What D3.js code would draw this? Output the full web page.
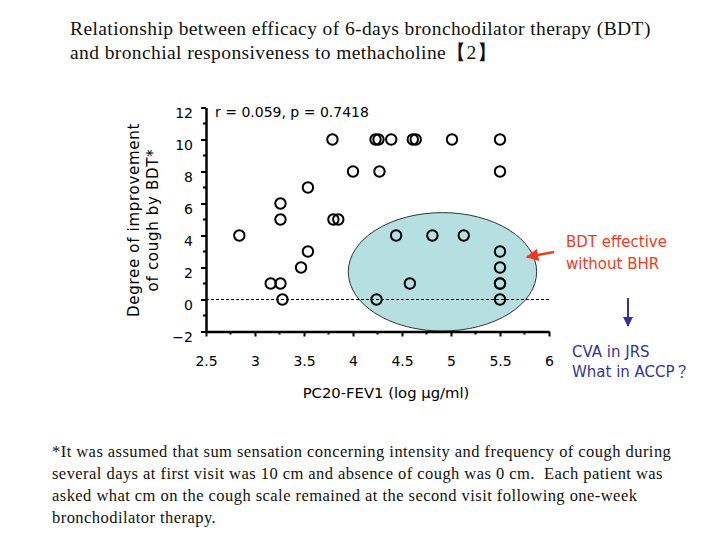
<!DOCTYPE html>
<html><head><meta charset="utf-8">
<script src="https://cdn.jsdelivr.net/npm/d3@7"></script>
<style>body{margin:0;background:#fff}svg text{white-space:pre}</style>
</head><body>
<script>
const titleLines = ["Relationship between efficacy of 6-days bronchodilator therapy (BDT)",
                    "and bronchial responsiveness to methacholine【2】"];
const xValues = [2.84,3.26,3.26,3.80,3.85,3.54,3.47,3.16,3.26,3.28,3.54,3.79,4.00,4.23,4.26,4.39,4.61,4.64,5.01,5.50,4.27,5.50,4.44,4.81,5.13,5.50,5.50,5.50,5.50,5.50,4.58,4.24];
const yValues = [4,6,5,5,5,3,2,1,1,0,7,10,8,10,10,10,10,10,10,10,8,8,4,4,4,3,2,1,1,0,1,0];
const xTicks = [2.5,3,3.5,4,4.5,5,5.5,6];
const yTicks = [-2,0,2,4,6,8,10,12];
const ellipse = {cx:4.913, cy:1.73, rx:0.961, ry:3.7};
const statText = "r = 0.059, p = 0.7418";
const xTitle = "PC20-FEV1 (log μg/ml)";
const yTitleLines = ["Degree of improvement","of cough by BDT*"];
const redNote = ["BDT effective","without BHR"];
const blueNote = ["CVA in JRS","What in ACCP？"];
const footLines = ["*It was assumed that sum sensation concerning intensity and frequency of cough during",
 "several days at first visit was 10 cm and absence of cough was 0 cm.  Each patient was",
 "asked what cm on the cough scale remained at the second visit following one-week",
 "bronchodilator therapy."];

const svg = d3.select("body").append("svg").attr("width",720).attr("height",540);
const x = d3.scaleLinear().domain([2.5,6]).range([206,549]);
const y = d3.scaleLinear().domain([-2,12]).range([331.5,107.5]);
const serif = "'Liberation Serif', 'DejaVu Serif', serif";
const sans = "'DejaVu Sans', 'Noto Sans CJK JP', 'Liberation Sans', sans-serif";

svg.append("defs").html(
 '<marker id="ar" viewBox="0 0 10 10" refX="9" refY="5" markerWidth="5" markerHeight="5" orient="auto"><path d="M0,0L10,5L0,10z" fill="#f03a1e"/></marker>'+
 '<marker id="ab" viewBox="0 0 10 10" refX="9" refY="5" markerWidth="5" markerHeight="5" orient="auto"><path d="M0,0L10,5L0,10z" fill="#333399"/></marker>');

// title
svg.selectAll(".title").data(titleLines).join("text")
  .attr("x",70).attr("y",(d,i)=>35+i*24).attr("font-family",serif).attr("font-size",19.5)
  .attr("letter-spacing",0.4).attr("fill","#111").text(d=>d);

// ellipse
svg.append("ellipse").attr("cx",x(ellipse.cx)).attr("cy",y(ellipse.cy))
  .attr("rx",x(ellipse.cx+ellipse.rx)-x(ellipse.cx)).attr("ry",y(ellipse.cy-ellipse.ry)-y(ellipse.cy))
  .attr("fill","#b6dfe2").attr("stroke","#333").attr("stroke-width",1);

// zero dashed line
svg.append("line").attr("x1",x(2.5)).attr("x2",x(6)).attr("y1",y(0)).attr("y2",y(0))
  .attr("stroke","#000").attr("stroke-width",1).attr("stroke-dasharray","3,2");

// axes
const yAxis = svg.append("g").attr("transform",`translate(${x(2.5)},0)`)
  .call(d3.axisLeft(y).tickValues(yTicks).tickSize(5).tickSizeOuter(0).tickFormat(d=>d<0?"−"+(-d):d));
const xAxis = svg.append("g").attr("transform",`translate(0,${y(-2)})`)
  .call(d3.axisBottom(x).tickValues(xTicks).tickSize(5).tickSizeOuter(0).tickFormat(d=>d));
// minor ticks
const yMinor = d3.range(-1,12,2);
svg.append("g").selectAll("line").data(yMinor).join("line")
  .attr("x1",x(2.5)-3).attr("x2",x(2.5)).attr("y1",d=>y(d)).attr("y2",d=>y(d)).attr("stroke","#000").attr("stroke-width",2);
const xMinor = d3.range(2.75,6,0.5);
svg.append("g").selectAll("line").data(xMinor).join("line")
  .attr("y1",y(-2)).attr("y2",y(-2)+3).attr("x1",d=>x(d)).attr("x2",d=>x(d)).attr("stroke","#000").attr("stroke-width",2);
[yAxis,xAxis].forEach(g=>{
  g.select(".domain").attr("stroke-width",2.5);
  g.selectAll(".tick line").attr("stroke-width",2);
  g.selectAll("text").attr("font-family",sans).attr("font-size",14).attr("fill","#000");
});
yAxis.selectAll("text").attr("x",-13).attr("dy","0.68em");
xAxis.selectAll("text").attr("y",22).attr("dy","0.9em");

// points
svg.append("g").selectAll("circle").data(xValues.map((v,i)=>[v,yValues[i]])).join("circle")
  .attr("cx",d=>x(d[0])).attr("cy",d=>y(d[1])).attr("r",5.2)
  .attr("fill","none").attr("stroke","#000").attr("stroke-width",2);

// stat text
svg.append("text").attr("x",215).attr("y",117).attr("font-family",sans).attr("font-size",14).text(statText);

// axis titles
svg.append("text").attr("x",386).attr("y",398).attr("text-anchor","middle")
  .attr("font-family",sans).attr("font-size",14.8).text(xTitle);
svg.selectAll(".yt").data(yTitleLines).join("text")
  .attr("transform",(d,i)=>`translate(${139+i*19},220) rotate(-90)`).attr("text-anchor","middle")
  .attr("font-family",sans).attr("font-size",15).attr("letter-spacing",0.7).text(d=>d);

// red annotation
svg.selectAll(".rn").data(redNote).join("text")
  .attr("x",566).attr("y",(d,i)=>247+i*22).attr("font-family",sans).attr("font-size",15)
  .attr("fill","#f03a1e").text(d=>d);
svg.append("line").attr("x1",554).attr("y1",252).attr("x2",527).attr("y2",257)
  .attr("stroke","#f03a1e").attr("stroke-width",2.5).attr("marker-end","url(#ar)");

// blue annotation
svg.append("line").attr("x1",628).attr("y1",298).attr("x2",628).attr("y2",326)
  .attr("stroke","#333399").attr("stroke-width",2).attr("marker-end","url(#ab)");
svg.selectAll(".bn").data(blueNote).join("text")
  .attr("x",572).attr("y",(d,i)=>357+i*20).attr("font-family",sans).attr("font-size",15)
  .attr("fill","#333399").text(d=>d);

// footnote
svg.selectAll(".fn").data(footLines).join("text")
  .attr("x",52).attr("y",(d,i)=>457+i*22).attr("font-family",serif).attr("font-size",16.5)
  .attr("letter-spacing",0.45).attr("fill","#111").text(d=>d);
</script>
</body></html>
